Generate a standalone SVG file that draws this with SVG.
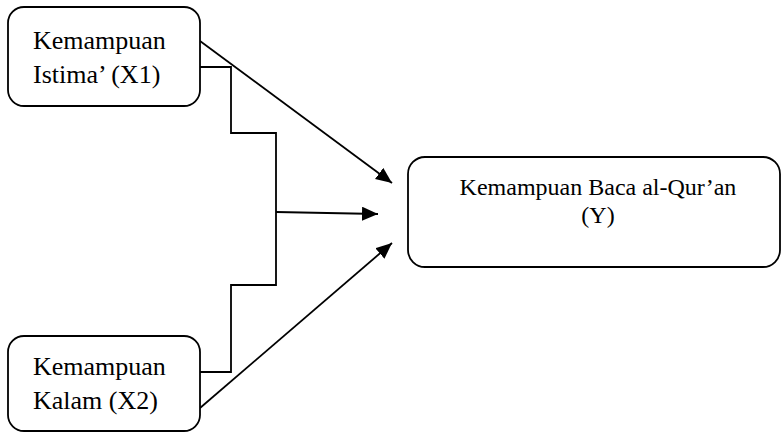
<svg xmlns="http://www.w3.org/2000/svg" width="781" height="432" viewBox="0 0 781 432">
<defs>
<style>
.box{fill:#fff;stroke:#000;stroke-width:1.8}
.t{font-family:"Liberation Serif","Times New Roman",serif;fill:#000}
.c{fill:none;stroke:#000;stroke-width:1.8}
</style>
<marker id="ah" markerUnits="userSpaceOnUse" markerWidth="18" markerHeight="16" refX="16" refY="7" orient="auto">
<path d="M0,0 L16,7 L0,14 z" fill="#000"/>
</marker>
</defs>
<rect width="781" height="432" fill="#fff"/>
<g id="connectors">
<line class="c" x1="200" y1="41" x2="392" y2="183" marker-end="url(#ah)"/>
<line class="c" x1="200" y1="408" x2="392" y2="243" marker-end="url(#ah)"/>
<polyline class="c" points="200,67 231,67 231,133 276,133 276,285 231,285 231,372 200,372"/>
<line class="c" x1="276" y1="212" x2="378" y2="214" marker-end="url(#ah)"/>
</g>
<g id="x1">
<rect class="box" x="8" y="7" width="192" height="99" rx="16"/>
<text class="t" x="33" y="49" font-size="26">Kemampuan</text>
<text class="t" x="33" y="83" font-size="26">Istima’ (X1)</text>
</g>
<g id="x2">
<rect class="box" x="8" y="336" width="192" height="95" rx="16"/>
<text class="t" x="33" y="375" font-size="26">Kemampuan</text>
<text class="t" x="33" y="409" font-size="26">Kalam (X2)</text>
</g>
<g id="y">
<rect class="box" x="408" y="157" width="372" height="110" rx="17"/>
<text class="t" x="598" y="195" font-size="24" text-anchor="middle">Kemampuan Baca al-Qur’an</text>
<text class="t" x="598" y="223" font-size="24" text-anchor="middle">(Y)</text>
</g>
</svg>
